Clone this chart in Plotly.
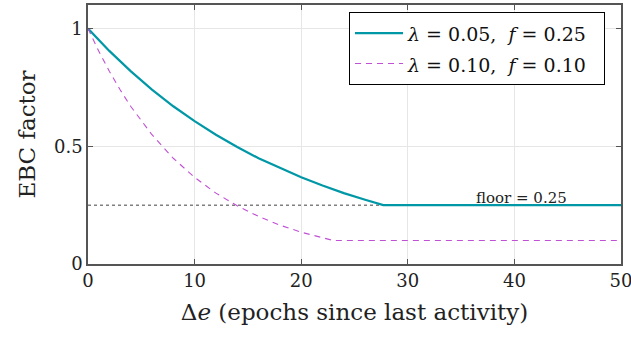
import plotly.graph_objects as go

# Data
de_a = [0, 2, 4, 6, 8, 10, 12, 14, 16, 18, 20, 22, 24, 26, 27.7, 50]
ebc_a = [1.0, 0.905, 0.819, 0.741, 0.670, 0.607, 0.549, 0.497, 0.449, 0.407,
         0.368, 0.333, 0.301, 0.273, 0.25, 0.25]
de_b = [0, 1, 2, 3, 4, 6, 8, 10, 12, 14, 16, 18, 20, 22, 23, 50]
ebc_b = [1.0, 0.905, 0.819, 0.741, 0.670, 0.549, 0.449, 0.368, 0.301, 0.247,
         0.202, 0.165, 0.135, 0.111, 0.10, 0.10]
floor_x = [0, 50]
floor_y = [0.25, 0.25]
name_a = "<span style='font-size:19px'><i>λ</i> = 0.05,  <i>f</i> = 0.25&nbsp;&nbsp;</span>"
name_b = "<span style='font-size:19px'><i>λ</i> = 0.10,  <i>f</i> = 0.10&nbsp;&nbsp;</span>"
x_ticks = [0, 10, 20, 30, 40, 50]
y_ticks = [0, 0.5, 1]
y_tick_labels = ["0", "0.5", "1"]

FONT = "DejaVu Serif, Liberation Serif, serif"
teal = "#0097a7"
purple = "#c050d4"

fig = go.Figure()
fig.add_trace(go.Scatter(x=floor_x, y=floor_y, mode="lines", showlegend=False,
                         line=dict(color="#808080", width=1.5, dash="dot"),
                         hoverinfo="skip"))
fig.add_trace(go.Scatter(x=de_a, y=ebc_a, mode="lines", name=name_a,
                         line=dict(color=teal, width=2.2)))
fig.add_trace(go.Scatter(x=de_b, y=ebc_b, mode="lines", name=name_b,
                         line=dict(color=purple, width=1.1, dash="6px,5px")))

fig.add_annotation(x=40.7, y=0.25, text="floor = 0.25", showarrow=False,
                   yanchor="bottom", yshift=-4,
                   font=dict(family=FONT, size=15, color="#222"))

axis_common = dict(showgrid=True, gridcolor="#e6e6e6", gridwidth=1,
                   showline=True, linecolor="#555", linewidth=1.5, mirror="ticks",
                   ticks="inside", ticklen=5, tickcolor="#555", zeroline=False,
                   automargin=False, ticklabeloverflow="allow",
                   tickfont=dict(family=FONT, size=18, color="#222"))

fig.update_xaxes(range=[0, 50], tickvals=x_ticks,
                 title=dict(text="Δ<i>e</i> (epochs since last activity)",
                            font=dict(family=FONT, size=23, color="#222"), standoff=14),
                 **axis_common)
fig.update_yaxes(range=[0, 1.1], tickvals=y_ticks, ticktext=y_tick_labels,
                 title=dict(text="EBC factor",
                            font=dict(family=FONT, size=23, color="#222"), standoff=12),
                 **axis_common)

fig.update_layout(
    width=631, height=338,
    margin=dict(l=88, r=10, t=5, b=74),
    plot_bgcolor="white", paper_bgcolor="white",
    legend=dict(x=0.970, y=0.973, xanchor="right", yanchor="top",
                bordercolor="black", borderwidth=1, bgcolor="white",
                font=dict(family=FONT, size=21, color="#111"),
                tracegroupgap=0, itemwidth=48),
    font=dict(family=FONT),
)

fig.write_html("out.html", config={"displayModeBar": False},
               post_script="document.body.style.margin='0';document.body.style.padding='0';")
